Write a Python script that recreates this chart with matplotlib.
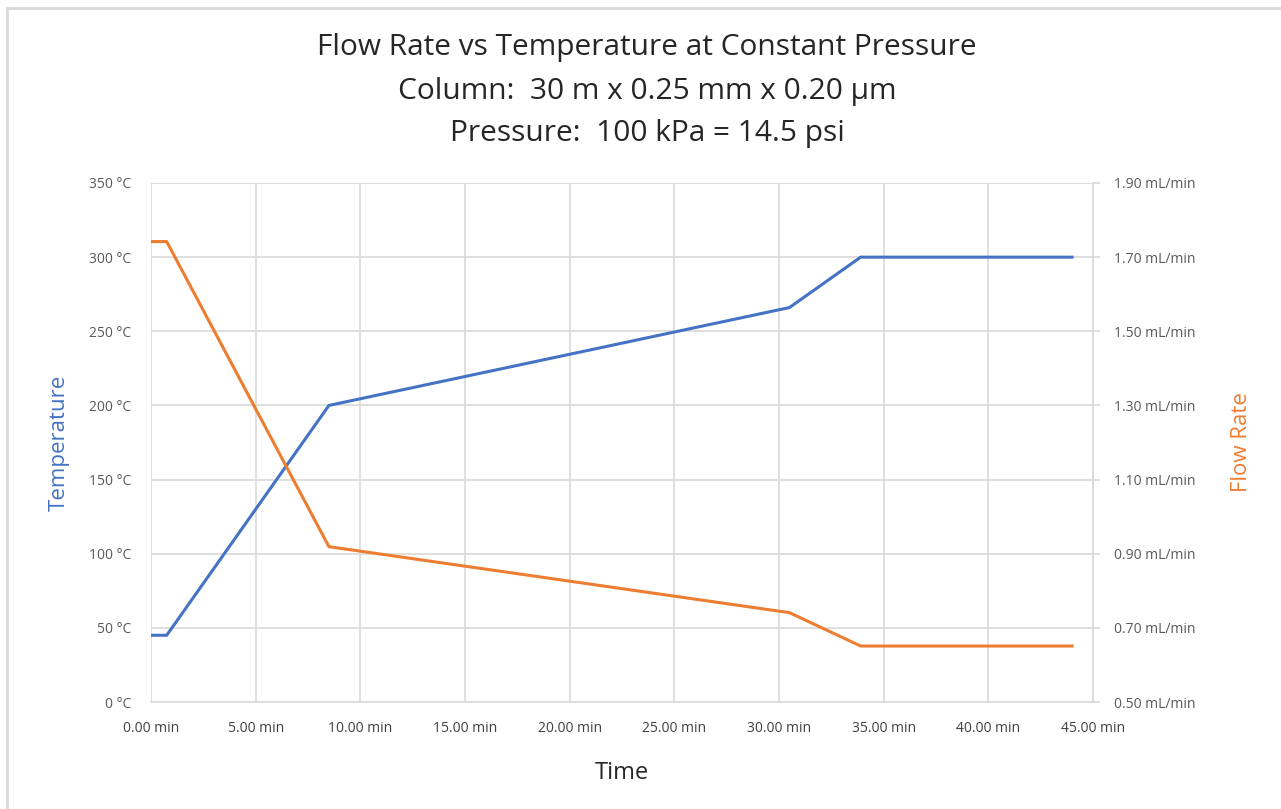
import matplotlib
matplotlib.use("Agg")
import matplotlib.pyplot as plt
from matplotlib.ticker import FuncFormatter, MultipleLocator, FixedLocator
from matplotlib.lines import Line2D

time_min = [0.0, 0.75, 8.5, 30.5, 33.9, 44.0]
temperature_c = [45, 45, 200, 266, 300, 300]
flow_ml_min = [1.742, 1.742, 0.919, 0.741, 0.651, 0.651]
flow_ticks = [0.5, 0.7, 0.9, 1.1, 1.3, 1.5, 1.7, 1.9]

title_lines = ["Flow Rate vs Temperature at Constant Pressure",
               "Column:  30 m x 0.25 mm x 0.20 \u00b5m",
               "Pressure:  100 kPa = 14.5 psi"]

BLUE = "#4472C4"
ORANGE = "#ED7D31"
GRID = "#D9D9D9"
TXT = "#595959"

plt.rcParams['font.family'] = ['Open Sans', 'DejaVu Sans']

W, H = 1281, 809
fig = plt.figure(figsize=(W/100, H/100), dpi=100)
ax = fig.add_axes([151/W, 1-702/H, (1093-151)/W, (702-183)/H])
ax2 = ax.twinx()

ax.plot(time_min, temperature_c, color=BLUE, lw=2.2, solid_joinstyle='round', zorder=3)
ax2.plot(time_min, flow_ml_min, color=ORANGE, lw=2.2, solid_joinstyle='round', zorder=3)

ax.set_xlim(0, 45)
ax.set_ylim(0, 350)
ax2.set_ylim(0.5, 1.9)
ax.xaxis.set_major_locator(MultipleLocator(5))
ax.yaxis.set_major_locator(MultipleLocator(50))
ax2.yaxis.set_major_locator(FixedLocator(flow_ticks))
ax.xaxis.set_major_formatter(FuncFormatter(lambda v, p: f"{v:.2f} min"))
ax.yaxis.set_major_formatter(FuncFormatter(lambda v, p: f"{v:.0f} \u00b0C"))
ax2.yaxis.set_major_formatter(FuncFormatter(lambda v, p: f"{v:.2f} mL/min"))

ax.grid(True, color=GRID, lw=1.2)
ax.set_axisbelow(True)
for s in ['top', 'right', 'left']:
    ax.spines[s].set_visible(False)
ax.spines['bottom'].set_color(GRID)
ax.spines['bottom'].set_linewidth(1.2)
for s in ['top', 'left', 'bottom']:
    ax2.spines[s].set_visible(False)
ax2.spines['right'].set_color(GRID)
ax2.spines['right'].set_linewidth(1.2)

ax.tick_params(axis='x', length=0, labelsize=10, colors="#404040", pad=14)
ax.tick_params(axis='y', length=0, labelsize=10, colors=TXT, pad=14)
ax2.tick_params(axis='y', length=5, width=1.2, color=GRID, labelsize=10, labelcolor=TXT, pad=10)

ax.set_xlabel("Time", fontsize=17, color="#262626", labelpad=18)
ax.set_ylabel("Temperature", fontsize=16, color=BLUE, labelpad=14)
ax2.set_ylabel("Flow Rate", fontsize=16, color=ORANGE, labelpad=26)

for txt, yy in zip(title_lines, [48, 92, 134]):
    fig.text(647/W, 1-yy/H, txt, ha='center', va='center', fontsize=21.5, color="#262626")

# chart area border (top & left visible)
fig.add_artist(Line2D([7/W, 7/W], [0, 1-8/H], transform=fig.transFigure, color="#D9D9D9", lw=2))
fig.add_artist(Line2D([7/W, 1], [1-8/H, 1-8/H], transform=fig.transFigure, color="#D9D9D9", lw=2))

fig.savefig("out.png", dpi=100)
